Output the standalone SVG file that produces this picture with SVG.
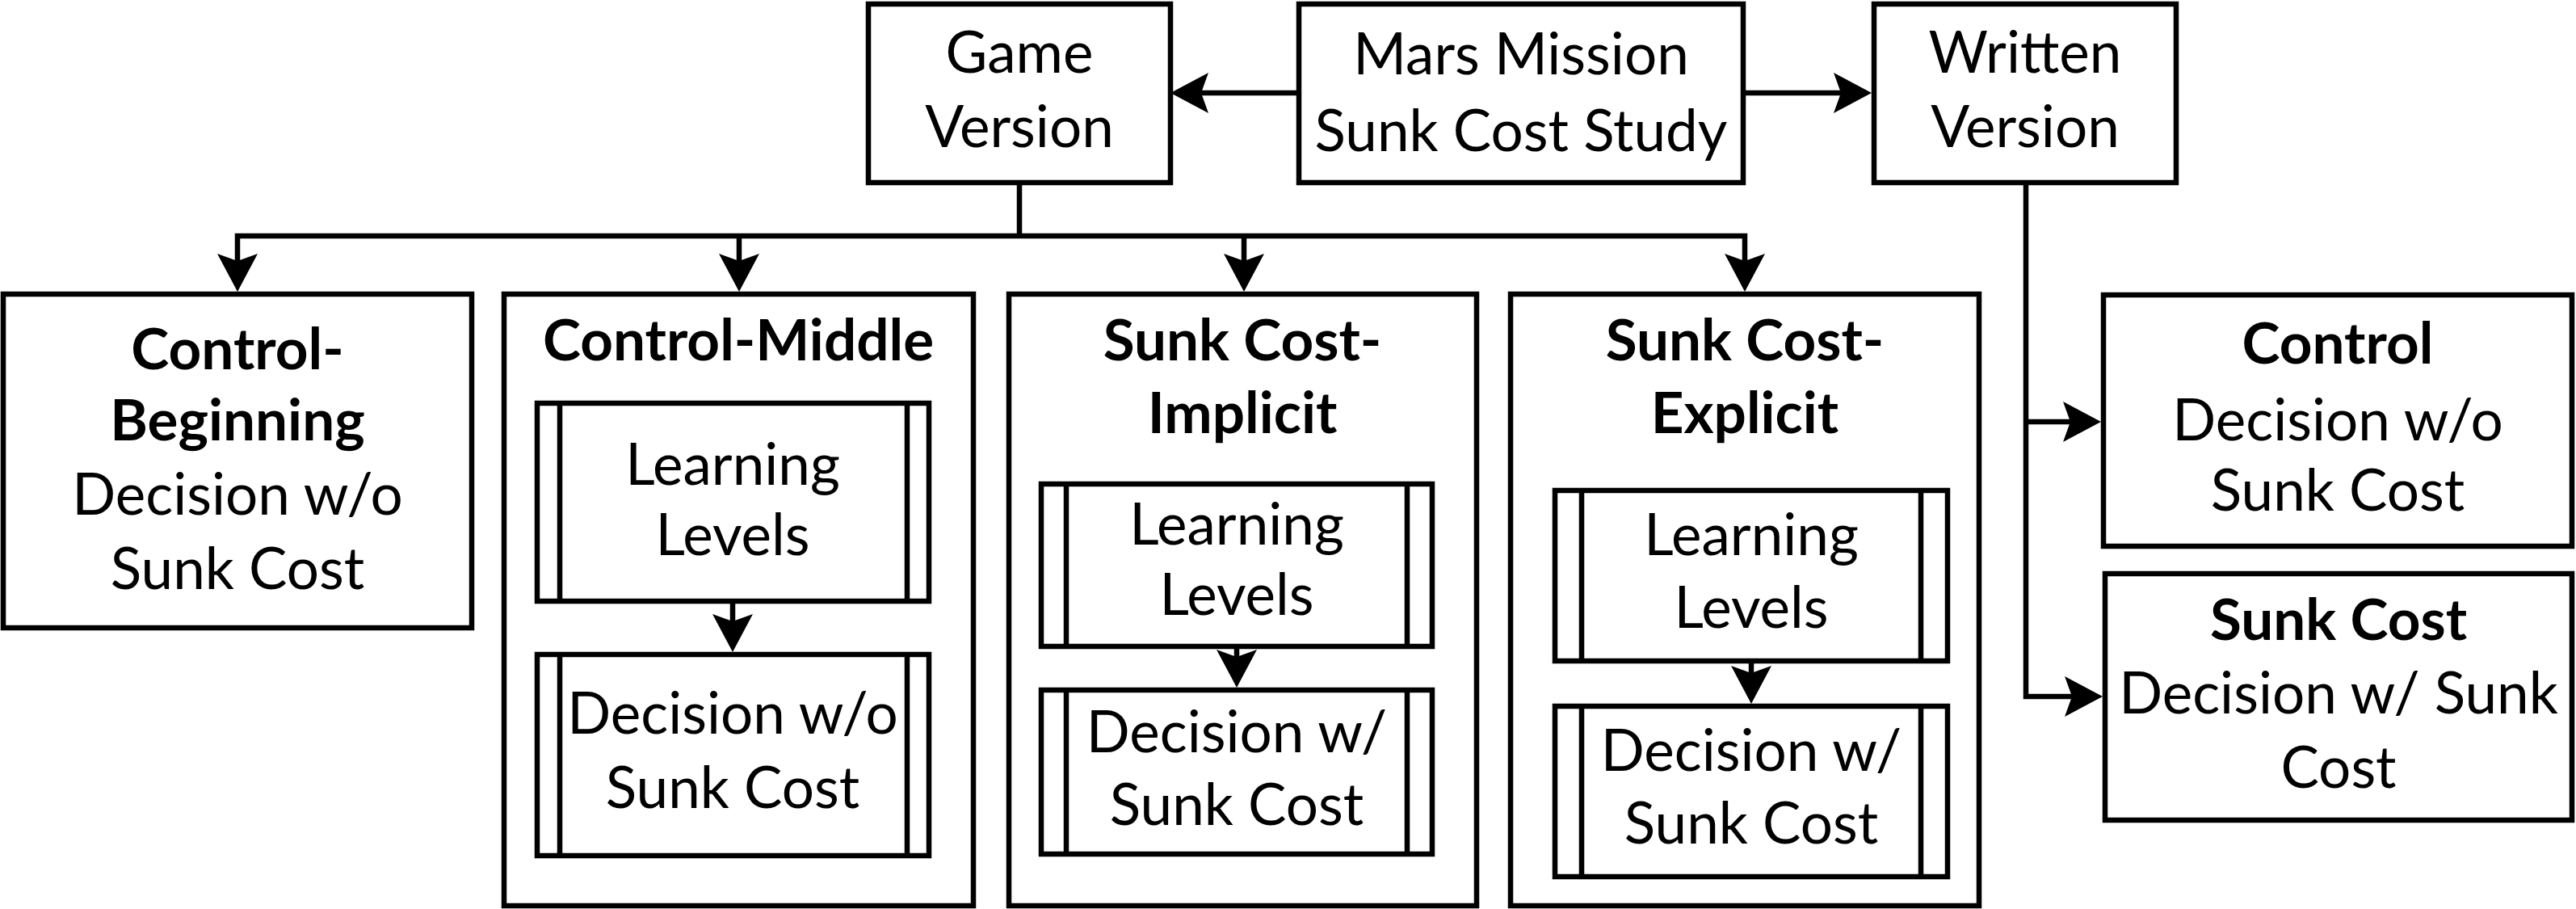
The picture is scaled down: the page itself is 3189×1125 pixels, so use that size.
<svg xmlns="http://www.w3.org/2000/svg" width="3189" height="1125" viewBox="0 0 3189 1125">
<style>
  .box { fill: #fff; stroke: #000; stroke-width: 6.5; stroke-linejoin: miter; }
  .inner { fill: none; stroke: #000; stroke-width: 6.5; }
  .conn { fill: none; stroke: #000; stroke-width: 6.5; stroke-linejoin: miter; marker-end: url(#arrow); }
  .plain { fill: none; stroke: #000; stroke-width: 6.5; }
  text { font-family: Lato, "Open Sans", sans-serif; font-size: 71px; fill: #000; text-anchor: middle; }
  .b { font-weight: bold; }
</style>
<defs>
  <marker id="arrow" markerUnits="userSpaceOnUse" viewBox="-50 -27 54 54" refX="-38" refY="0" markerWidth="54" markerHeight="54" orient="auto">
    <path d="M0,0 L-47,-25 L-38,0 L-47,25 Z" fill="#000"/>
  </marker>
</defs>
<rect width="3189" height="1125" fill="#fff"/>

<g id="game-version">
  <rect class="box" x="1075" y="5" width="374" height="221"/>
  <text x="1262" y="90">Game</text>
  <text x="1262" y="182">Version</text>
</g>

<g id="mars-mission">
  <rect class="box" x="1608" y="5" width="550" height="221"/>
  <text x="1883" y="92">Mars Mission</text>
  <text x="1883" y="187">Sunk Cost Study</text>
</g>

<g id="written-version">
  <rect class="box" x="2320" y="5" width="374" height="221"/>
  <text x="2507" y="90">Written</text>
  <text x="2507" y="182">Version</text>
</g>

<g id="control-beginning">
  <rect class="box" x="4" y="364" width="580" height="413"/>
  <text class="b" x="294" y="457">Control-</text>
  <text class="b" x="294" y="545">Beginning</text>
  <text x="294" y="637">Decision w/o</text>
  <text x="294" y="729">Sunk Cost</text>
</g>

<g id="control-middle">
  <rect class="box" x="624" y="364" width="581" height="757"/>
  <text class="b" x="914" y="446">Control-Middle</text>
  <g id="cm-learning">
    <rect class="box" x="665" y="499" width="485" height="245"/>
    <path class="inner" d="M693 499 V744 M1123 499 V744"/>
    <text x="907" y="600">Learning</text>
    <text x="907" y="687">Levels</text>
  </g>
  <g id="cm-decision">
    <rect class="box" x="665" y="810" width="485" height="249"/>
    <path class="inner" d="M693 810 V1059 M1123 810 V1059"/>
    <text x="907" y="908">Decision w/o</text>
    <text x="907" y="1000">Sunk Cost</text>
  </g>
</g>

<g id="sunk-cost-implicit">
  <rect class="box" x="1249" y="364" width="579" height="757"/>
  <text class="b" x="1538" y="446">Sunk Cost-</text>
  <text class="b" x="1538" y="536">Implicit</text>
  <g id="sci-learning">
    <rect class="box" x="1289" y="599" width="484" height="201"/>
    <path class="inner" d="M1320 599 V800 M1742 599 V800"/>
    <text x="1531" y="674">Learning</text>
    <text x="1531" y="761">Levels</text>
  </g>
  <g id="sci-decision">
    <rect class="box" x="1289" y="854" width="484" height="203"/>
    <path class="inner" d="M1320 854 V1057 M1742 854 V1057"/>
    <text x="1531" y="931">Decision w/</text>
    <text x="1531" y="1021">Sunk Cost</text>
  </g>
</g>

<g id="sunk-cost-explicit">
  <rect class="box" x="1870" y="364" width="580" height="757"/>
  <text class="b" x="2160" y="446">Sunk Cost-</text>
  <text class="b" x="2160" y="536">Explicit</text>
  <g id="sce-learning">
    <rect class="box" x="1925" y="607" width="486" height="211"/>
    <path class="inner" d="M1958 607 V818 M2378 607 V818"/>
    <text x="2168" y="687">Learning</text>
    <text x="2168" y="777">Levels</text>
  </g>
  <g id="sce-decision">
    <rect class="box" x="1925" y="874" width="486" height="211"/>
    <path class="inner" d="M1958 874 V1085 M2378 874 V1085"/>
    <text x="2168" y="954">Decision w/</text>
    <text x="2168" y="1044">Sunk Cost</text>
  </g>
</g>

<g id="written-control">
  <rect class="box" x="2604" y="365" width="580" height="311"/>
  <text class="b" x="2894" y="450">Control</text>
  <text x="2894" y="545">Decision w/o</text>
  <text x="2894" y="632">Sunk Cost</text>
</g>

<g id="written-sunk-cost">
  <rect class="box" x="2606" y="710" width="578" height="305"/>
  <text class="b" x="2895" y="792">Sunk Cost</text>
  <text x="2895" y="883">Decision w/ Sunk</text>
  <text x="2895" y="975">Cost</text>
</g>

<g id="connectors">
  <path class="conn" d="M1605 115 H1487"/>
  <path class="conn" d="M2161 115 H2279"/>
  <path class="plain" d="M1262 229 V292"/>
  <path class="conn" d="M1262 292 H294 V323"/>
  <path class="conn" d="M1262 292 H2160 V323"/>
  <path class="conn" d="M915 292 V323"/>
  <path class="conn" d="M1540 292 V323"/>
  <path class="conn" d="M2508 229 V862 H2565"/>
  <path class="conn" d="M2508 522 H2563"/>
  <path class="conn" d="M907 747 V769"/>
  <path class="conn" d="M1531 803 V813"/>
  <path class="conn" d="M2168 821 V833"/>
</g>
</svg>
